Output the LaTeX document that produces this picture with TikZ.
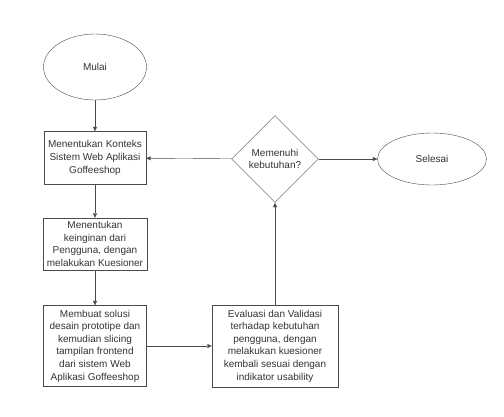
\documentclass[tikz,border=0pt]{standalone}
\usepackage{fontspec}
\setmainfont{Liberation Sans}
\usetikzlibrary{shapes.geometric, arrows.meta, positioning}
\definecolor{garis}{HTML}{4A4A4A}
\definecolor{teks}{HTML}{333333}

\begin{document}
\begin{tikzpicture}[x=1pt, y=-1pt,
  font=\fontsize{10}{12.6}\selectfont, text=teks,
  proses/.style={draw=garis, rectangle, align=center, inner sep=0pt},
  terminal/.style={draw=garis, ellipse, inner sep=0pt},
  keputusan/.style={draw=garis, diamond, aspect=1, inner sep=0pt, align=center},
  panah/.style={draw=garis, -{Triangle[length=4.5pt, width=4pt]}}]
  \useasboundingbox (0,0) rectangle (504,416);

  % alur utama
  \node[terminal, minimum width=103pt, minimum height=66pt] (mulai) at (95,67) {Mulai};
  \node[proses, minimum width=102pt, minimum height=53pt] (konteks) at (95,158)
    {Menentukan Konteks\\Sistem Web Aplikasi\\Goffeeshop};
  \node[proses, minimum width=104pt, minimum height=52pt] (keinginan) at (95,244)
    {Menentukan\\keinginan dari\\Pengguna, dengan\\melakukan Kuesioner};
  \node[proses, minimum width=103pt, minimum height=81pt] (solusi) at (95,346)
    {Membuat solusi\\desain prototipe dan\\kemudian slicing\\tampilan frontend\\dari sistem Web\\Aplikasi Goffeeshop};
  \node[proses, minimum width=126pt, minimum height=82pt] (evaluasi) at (275,346)
    {Evaluasi dan Validasi\\terhadap kebutuhan\\pengguna, dengan\\melakukan kuesioner\\kembali sesuai dengan\\indikator usability};
  \node[keputusan, minimum size=87pt] (cek) at (275,159) {Memenuhi\\kebutuhan?};
  \node[terminal, minimum width=109pt, minimum height=52pt] (selesai) at (432,159) {Selesai};

  % panah
  \draw[panah] (mulai) -- (konteks);
  \draw[panah] (konteks) -- (keinginan);
  \draw[panah] (keinginan) -- (solusi);
  \draw[panah] (solusi) -- (evaluasi);
  \draw[panah] (evaluasi) -- (cek);
  \draw[panah] (cek) -- (selesai);
  \draw[panah] (cek) -- (konteks);
\end{tikzpicture}
\end{document}
